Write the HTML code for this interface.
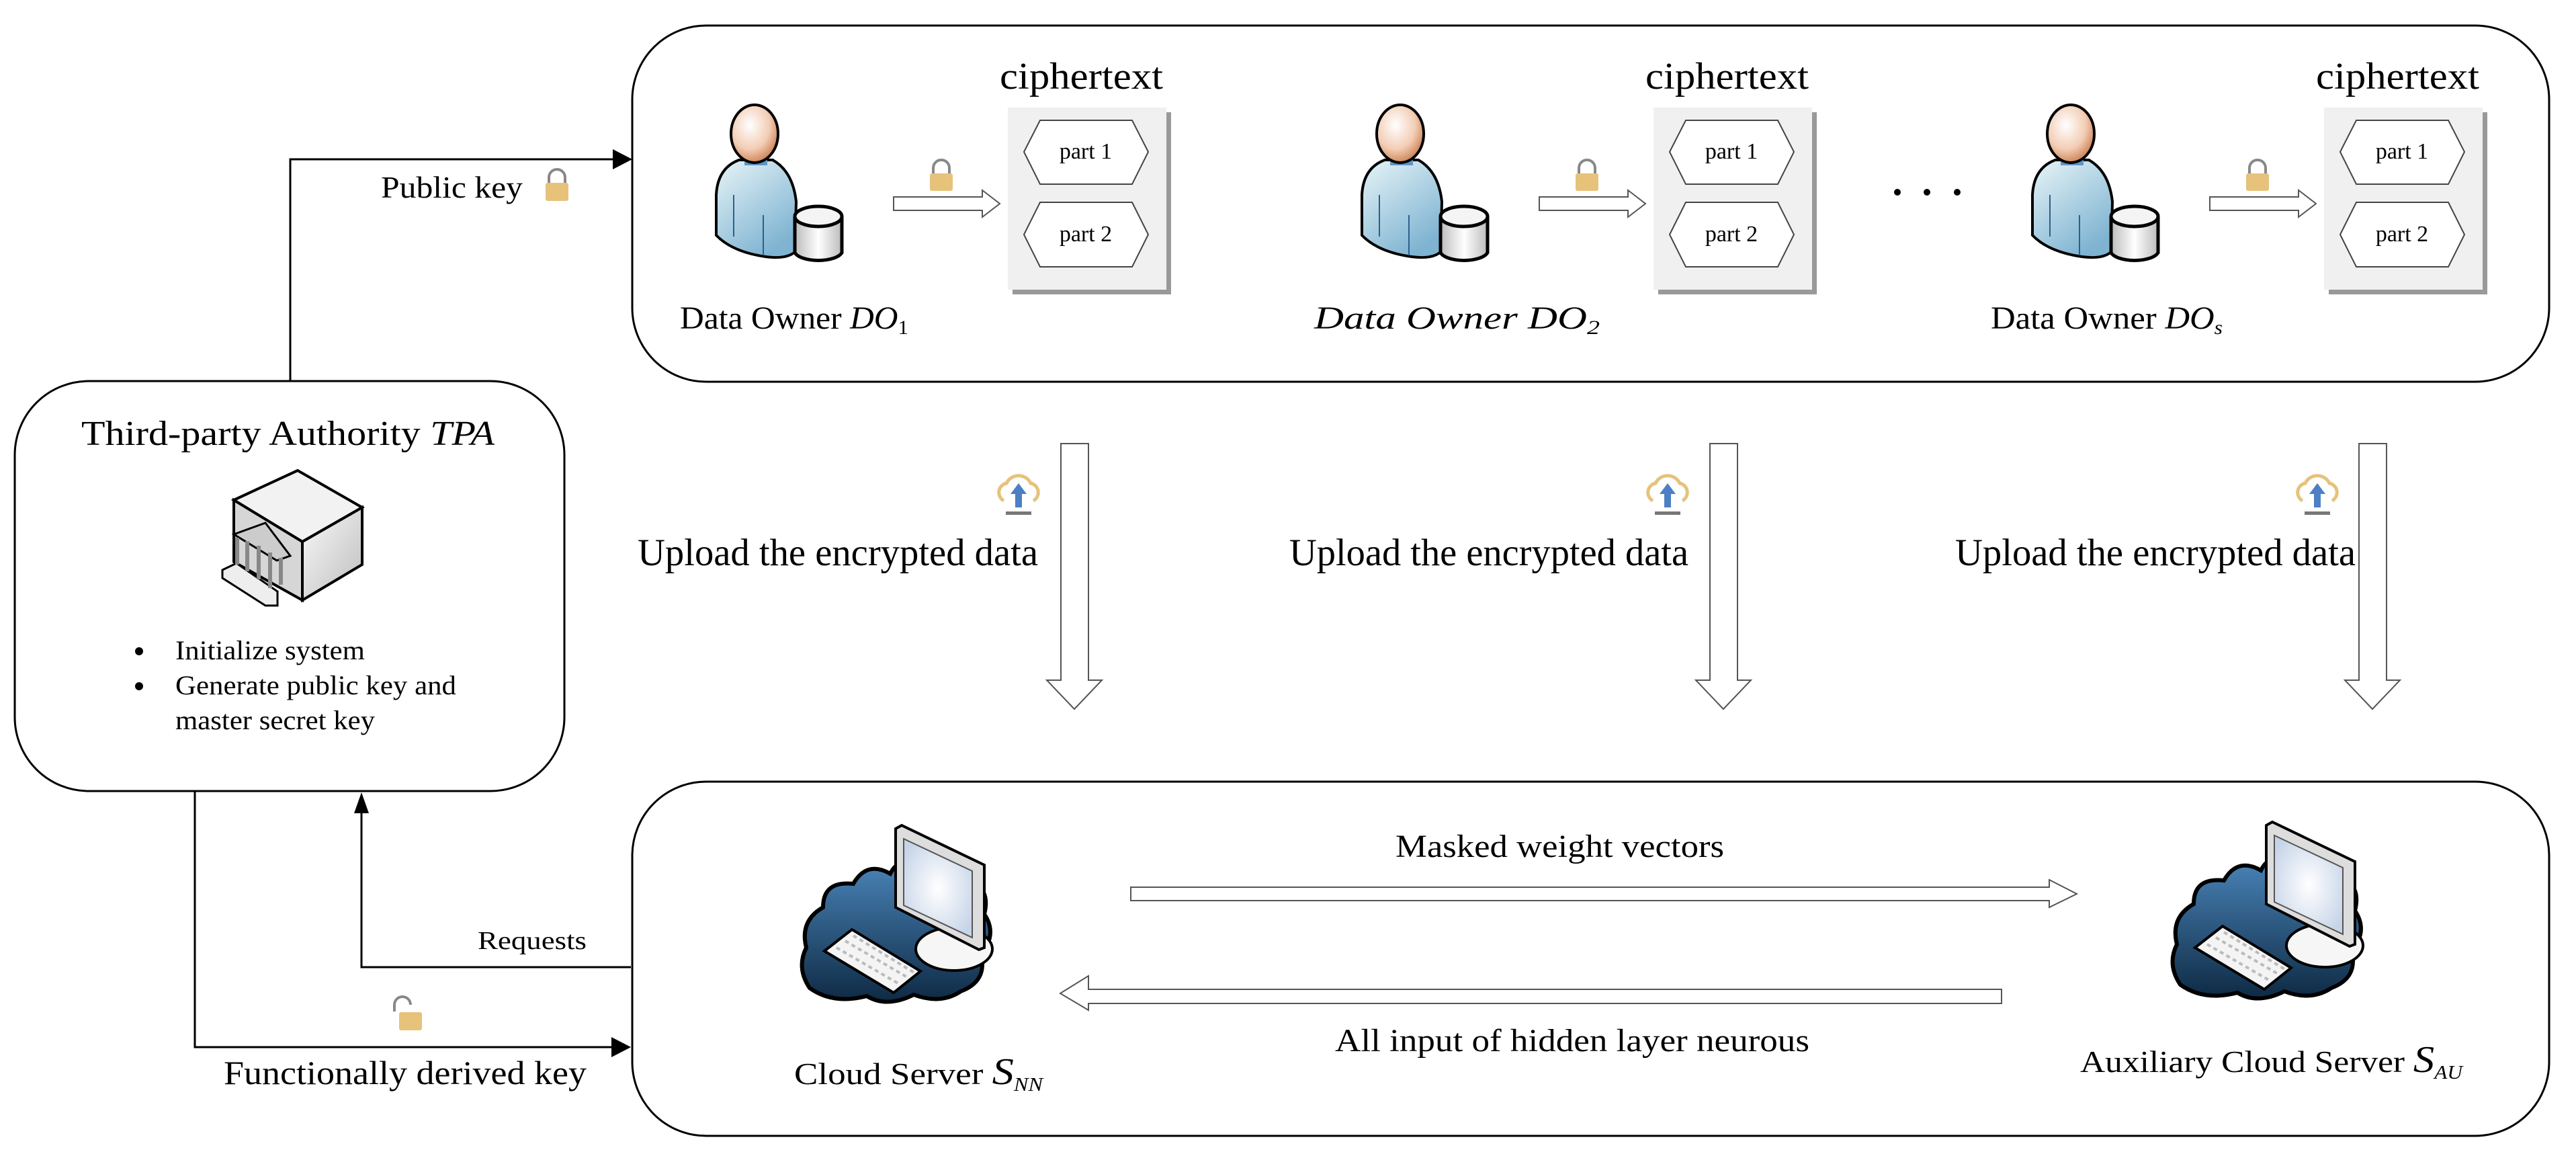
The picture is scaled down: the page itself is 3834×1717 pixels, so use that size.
<!DOCTYPE html>
<html><head><meta charset="utf-8"><style>
html,body{margin:0;padding:0;background:#fff;}
svg{display:block;}
text{font-family:"Liberation Serif",serif;fill:#000;}
</style></head><body>
<svg width="3834" height="1717" viewBox="0 0 3834 1717" xmlns="http://www.w3.org/2000/svg">
<defs>
<radialGradient id="head" cx="0.4" cy="0.35" r="0.7"><stop offset="0" stop-color="#fff"/><stop offset="0.6" stop-color="#f3cdb5"/><stop offset="1" stop-color="#c77a4a"/></radialGradient>
<linearGradient id="body" x1="0" y1="0" x2="0.6" y2="1"><stop offset="0" stop-color="#e8f5f8"/><stop offset="1" stop-color="#7eb3d1"/></linearGradient>
<linearGradient id="cyl" x1="0" y1="0" x2="1" y2="0"><stop offset="0" stop-color="#bbb"/><stop offset="0.5" stop-color="#fff"/><stop offset="1" stop-color="#bbb"/></linearGradient>
<linearGradient id="cloud" x1="0" y1="0" x2="0" y2="1"><stop offset="0" stop-color="#4a84b8"/><stop offset="1" stop-color="#0e2a44"/></linearGradient>
<radialGradient id="scr" cx="0.5" cy="0.5" r="0.6"><stop offset="0" stop-color="#fff"/><stop offset="1" stop-color="#c6d4e8"/></radialGradient>
<linearGradient id="grey" x1="0" y1="0" x2="1" y2="1"><stop offset="0" stop-color="#fafafa"/><stop offset="1" stop-color="#bdbdbd"/></linearGradient>
<g id="person">
  <path d="M1100,238 Q1068,250 1066,290 L1066,350 Q1090,375 1140,382 Q1170,386 1183,375 L1185,300 Q1180,255 1150,238 Z" fill="url(#body)" stroke="#000" stroke-width="4"/>
  <rect x="1108" y="232" width="34" height="14" fill="#5d95c6"/>
  <ellipse cx="1123" cy="199" rx="35" ry="43" fill="url(#head)" stroke="#000" stroke-width="4"/>
  <path d="M1183,322 L1183,376 A36,15 0 0 0 1253,376 L1253,322" fill="url(#cyl)" stroke="#000" stroke-width="5"/>
  <ellipse cx="1218" cy="322" rx="35" ry="15" fill="#f4f4f4" stroke="#000" stroke-width="5"/>
  <path d="M1092,290 L1092,352 M1136,320 L1136,380" stroke="#2c5f8a" stroke-width="2"/>
  <path d="M1389,262 L1389,250 A12,12 0 0 1 1413,250 L1413,262" fill="none" stroke="#888" stroke-width="4"/>
  <rect x="1384" y="258" width="34" height="26" rx="3" fill="#e6c27a"/>
  <polygon points="1330,293 1462,293 1462,283 1488,303 1462,323 1462,313 1330,313" fill="#fff" stroke="#555" stroke-width="2"/>
  <rect x="1507" y="167" width="236" height="271" fill="#999"/>
  <rect x="1500" y="160" width="236" height="271" fill="#f0f0f0"/>
  <polygon points="1524,226 1548,179 1685,179 1709,226 1685,274 1548,274" fill="#fff" stroke="#444" stroke-width="2"/>
  <polygon points="1524,349 1548,301 1685,301 1709,349 1685,397 1548,397" fill="#fff" stroke="#444" stroke-width="2"/>
  <text x="1616" y="236" font-size="34" text-anchor="middle">part 1</text>
  <text x="1616" y="359" font-size="34" text-anchor="middle">part 2</text>
  <text x="1488" y="132" font-size="56" textLength="243" lengthAdjust="spacingAndGlyphs">ciphertext</text>
</g>
<g id="upload">
  <path d="M-22,12 A14,14 0 0 1 -18,-14 A20,20 0 0 1 18,-14 A14,14 0 0 1 22,12" fill="none" stroke="#e6c27a" stroke-width="5"/>
  <polygon points="0,-14 12,2 5,2 5,22 -5,22 -5,2 -12,2" fill="#4d7fc4"/>
  <rect x="-19" y="28" width="38" height="5" fill="#777"/>
</g>
<g id="comp">
  <path d="M1205,1470 Q1185,1440 1200,1410 Q1190,1370 1225,1350 Q1225,1310 1270,1315 Q1290,1280 1325,1300 Q1340,1270 1375,1290 Q1410,1280 1440,1310 Q1475,1320 1465,1360 Q1485,1390 1460,1420 Q1470,1460 1430,1475 Q1400,1495 1360,1480 Q1320,1500 1290,1482 Q1240,1495 1205,1470 Z" fill="url(#cloud)" stroke="#000" stroke-width="6"/>
  <ellipse cx="1420" cy="1412" rx="57" ry="32" fill="#f6f6f6" stroke="#000" stroke-width="4"/>
  <polygon points="1333,1233 1342,1228 1465,1287 1465,1410 1457,1413 1333,1350" fill="#ddd" stroke="#000" stroke-width="4"/>
  <polygon points="1345,1248 1447,1296 1447,1395 1345,1347" fill="url(#scr)" stroke="#555" stroke-width="2"/>
  <polygon points="1227,1415 1268,1383 1370,1445 1330,1477" fill="#f4f4f4" stroke="#000" stroke-width="4"/>
  <path d="M1245,1410 L1340,1465 M1258,1400 L1352,1455 M1270,1392 L1362,1448" stroke="#bbb" stroke-width="4" stroke-dasharray="6,5"/>
</g>
</defs>

<rect x="941" y="38" width="2853" height="530" rx="110" fill="none" stroke="#000" stroke-width="3"/>
<rect x="22" y="567" width="818" height="610" rx="110" fill="none" stroke="#000" stroke-width="3"/>
<rect x="941" y="1163" width="2853" height="527" rx="110" fill="none" stroke="#000" stroke-width="3"/>

<polyline points="432,567 432,237 912,237" fill="none" stroke="#000" stroke-width="3"/>
<polygon points="912,222 941,237 912,252" fill="#000"/>
<polyline points="939,1439 538,1439 538,1210" fill="none" stroke="#000" stroke-width="3"/>
<polygon points="527,1210 538,1179 549,1210" fill="#000"/>
<polyline points="290,1177 290,1558 910,1558" fill="none" stroke="#000" stroke-width="3"/>
<polygon points="910,1543 939,1558 910,1573" fill="#000"/>

<text x="567" y="294" font-size="46" textLength="211" lengthAdjust="spacingAndGlyphs">Public key</text>
<path d="M817,274 L817,264 A12,12 0 0 1 841,264 L841,274" fill="none" stroke="#888" stroke-width="4"/>
<rect x="812" y="272" width="34" height="27" rx="3" fill="#e6c27a"/>
<text x="711" y="1412" font-size="38" textLength="162" lengthAdjust="spacingAndGlyphs">Requests</text>
<path d="M587,1505 L587,1495 A12,12 0 0 1 611,1495" fill="none" stroke="#888" stroke-width="4"/>
<rect x="594" y="1506" width="34" height="27" rx="3" fill="#e6c27a"/>
<text x="333" y="1613" font-size="50" textLength="540" lengthAdjust="spacingAndGlyphs">Functionally derived key</text>

<text x="121" y="662" font-size="52" textLength="615" lengthAdjust="spacingAndGlyphs">Third-party Authority <tspan font-style="italic">TPA</tspan></text>
<polygon points="348,744 443,700 539,755 450,806" fill="#f2f2f2" stroke="#000" stroke-width="4"/>
<polygon points="450,806 539,755 539,840 450,893" fill="url(#grey)" stroke="#000" stroke-width="4"/>
<polygon points="348,744 450,806 450,893 348,836" fill="#d6d6d6" stroke="#000" stroke-width="4"/>
<polygon points="331,848 352,838 413,880 413,901 395,901 331,860" fill="#eee" stroke="#000" stroke-width="3"/>
<polygon points="348,795 395,778 432,827 412,834" fill="#ccc" stroke="#000" stroke-width="3"/>
<path d="M353,800 L353,840 M368,805 L368,850 M385,812 L385,862 M402,822 L402,875 M418,830 L418,870" stroke="#888" stroke-width="6"/>
<circle cx="207" cy="969" r="6" fill="#000"/>
<circle cx="207" cy="1021" r="6" fill="#000"/>
<text x="261" y="981" font-size="40" textLength="282" lengthAdjust="spacingAndGlyphs">Initialize system</text>
<text x="261" y="1033" font-size="40" textLength="418" lengthAdjust="spacingAndGlyphs">Generate public key and</text>
<text x="261" y="1085" font-size="40" textLength="297" lengthAdjust="spacingAndGlyphs">master secret key</text>

<use href="#person"/>
<use href="#person" transform="translate(961,0)"/>
<use href="#person" transform="translate(1959,0)"/>
<text x="1012" y="489" font-size="48" textLength="340" lengthAdjust="spacingAndGlyphs">Data Owner <tspan font-style="italic">DO</tspan><tspan font-size="30" dy="8">1</tspan></text>
<text x="1956" y="489" font-size="48" font-style="italic" textLength="425" lengthAdjust="spacingAndGlyphs">Data Owner DO<tspan font-size="30" dy="8">2</tspan></text>
<text x="2963" y="489" font-size="48" textLength="345" lengthAdjust="spacingAndGlyphs">Data Owner <tspan font-style="italic">DO</tspan><tspan font-size="30" dy="8" font-style="italic">s</tspan></text>
<circle cx="2824" cy="286" r="5" fill="#000"/>
<circle cx="2868" cy="286" r="5" fill="#000"/>
<circle cx="2913" cy="286" r="5" fill="#000"/>

<g fill="#fff" stroke="#555" stroke-width="2">
<polygon points="1579,660 1620,660 1620,1012 1640,1012 1599,1055 1558,1012 1579,1012"/>
<polygon points="2545,660 2586,660 2586,1012 2606,1012 2565,1055 2524,1012 2545,1012"/>
<polygon points="3511,660 3552,660 3552,1012 3572,1012 3531,1055 3490,1012 3511,1012"/>
</g>
<use href="#upload" transform="translate(1516,733)"/>
<use href="#upload" transform="translate(2482,733)"/>
<use href="#upload" transform="translate(3449,733)"/>
<text x="949" y="841" font-size="57" textLength="596" lengthAdjust="spacingAndGlyphs">Upload the encrypted data</text>
<text x="1919" y="841" font-size="57" textLength="594" lengthAdjust="spacingAndGlyphs">Upload the encrypted data</text>
<text x="2910" y="841" font-size="57" textLength="596" lengthAdjust="spacingAndGlyphs">Upload the encrypted data</text>

<use href="#comp"/>
<use href="#comp" transform="translate(2040,-5)"/>
<text x="1182" y="1613" font-size="46" textLength="370" lengthAdjust="spacingAndGlyphs">Cloud Server <tspan font-style="italic" font-size="56">S</tspan><tspan font-style="italic" font-size="28" dy="10">NN</tspan></text>
<text x="3096" y="1595" font-size="46" textLength="569" lengthAdjust="spacingAndGlyphs">Auxiliary Cloud Server <tspan font-style="italic" font-size="56">S</tspan><tspan font-style="italic" font-size="28" dy="10">AU</tspan></text>
<polygon points="1683,1320 3050,1320 3050,1309 3091,1330 3050,1350 3050,1340 1683,1340" fill="#fff" stroke="#555" stroke-width="2"/>
<polygon points="2979,1472 1620,1472 1620,1452 1578,1478 1620,1503 1620,1493 2979,1493" fill="#fff" stroke="#555" stroke-width="2"/>
<text x="2077" y="1275" font-size="48" textLength="489" lengthAdjust="spacingAndGlyphs">Masked weight vectors</text>
<text x="1987" y="1564" font-size="48" textLength="706" lengthAdjust="spacingAndGlyphs">All input of hidden layer neurous</text>
</svg>
</body></html>
